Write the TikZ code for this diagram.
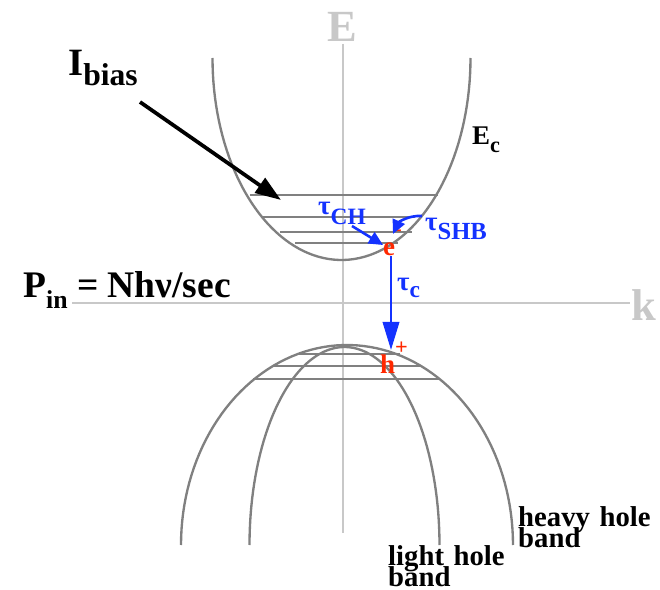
\documentclass[tikz,border=0pt]{standalone}
\usepackage{fontspec}
\setmainfont{Liberation Serif}
\usepackage{xcolor}
\usetikzlibrary{arrows.meta, positioning, calc}

\newcommand{\fsz}[1]{\fontsize{#1}{#1}\selectfont}
\newcommand{\tightlines}{\lineskiplimit=-50pt\lineskip=0pt\relax}
\definecolor{axisgray}{RGB}{200,200,200}
\definecolor{bandgray}{RGB}{128,128,128}
\definecolor{rateblue}{RGB}{20,50,255}
\definecolor{carrierred}{RGB}{255,40,0}

\begin{document}
\begin{tikzpicture}[
    x=0.03cm, y=-0.03cm,
    axis/.style={draw=axisgray, line width=2.3pt},
    band/.style={draw=bandgray, line width=2pt},
    lvl/.style={draw=bandgray, line width=2pt},
    lbl/.style={inner sep=0pt, anchor=base west, font=\bfseries},
    rate/.style={draw=rateblue, line width=2.2pt, -{Triangle[length=12pt,width=11pt]}},
    carrier/.style={lbl, text=carrierred},
    bandname/.style={lbl, text width=6cm, align=left, font=\bfseries\fontsize{24.5pt}{15.5pt}\selectfont}
]
\useasboundingbox (0,0) rectangle (660,590);

% axes
\coordinate (etop) at (343,44);
\coordinate (ebot) at (343,533);
\coordinate (kleft) at (72,303);
\coordinate (kright) at (630,303);
\draw[axis] (etop) -- (ebot);
\draw[axis] (kleft) -- (kright);
\node [inner sep=0pt, anchor=base, font=\bfseries\fsz{38pt}, text=axisgray] (lblE) at (342,42) {E};
\node [lbl, font=\bfseries\fsz{38pt}, text=axisgray] (lblk) at (631,320) {k};

% conduction band
\draw[band] plot[domain=0:180, samples=80] ({341.5+129*cos(\x)}, {58+202*sin(\x)});
\draw[lvl] (250,195) -- (438,195);
\draw[lvl] (262,217) -- (415,217);
\draw[lvl] (280,232) -- (412,232);
\draw[lvl] (295,243) -- (398,243);

% valence bands (heavy and light hole)
\draw[band] plot[domain=0:180, samples=80] ({347+166*cos(\x)}, {545-200*sin(\x)});
\draw[band] plot[domain=0:180, samples=80] ({344.5+95*cos(\x)}, {545-198*sin(\x)});
\draw[lvl] (297,354) -- (400,354);
\draw[lvl] (272,366) -- (420,366);
\draw[lvl] (253,379) -- (440,379);

% labels
\node [lbl] (ibias) at (68,76) {\fsz{33pt}I\raisebox{-8.5pt}{\fsz{27pt}bias}};
\node [lbl] (ec) at (472,145) {\fsz{23pt}E\raisebox{-6.5pt}{\fsz{19pt}c}};
\node [lbl] (pin) at (23,297) {\fsz{32pt}P\raisebox{-9.4pt}{\fsz{22pt}in} = Nhν/sec};
\node [bandname, anchor=north west] (hh) at (518,506) {\tightlines heavy hole\\[-5pt]band};
\node [bandname, anchor=north west] (lh) at (388,545) {\tightlines light hole\\[-5.5pt]band};

% bias current arrow
\coordinate (bstart) at (140,102);
\coordinate (bend) at (281,200);
\draw[line width=3.2pt, -{Triangle[length=22pt,width=15pt]}] (bstart) -- (bend);

% carriers and rates
\node [carrier] (elec) at (383,255) {\fsz{23pt}e\raisebox{17pt}{\fsz{17pt}-}};
\node [carrier] (hole) at (380,373) {\fsz{23pt}h\raisebox{16pt}{\fsz{19pt}+}};
\node [lbl, text=rateblue] (tauch) at (318,215) {\fsz{23pt}τ\raisebox{-8.5pt}{\fsz{20pt}CH}};
\node [lbl, text=rateblue] (taushb) at (425,230) {\fsz{23pt}τ\raisebox{-8.5pt}{\fsz{21pt}SHB}};
\node [lbl, text=rateblue] (tauc) at (397,290) {\fsz{23pt}τ\raisebox{-6pt}{\fsz{20pt}c}};

\coordinate (chs) at (352,226);
\coordinate (che) at (383,245);
\coordinate (shbs) at (422,216);
\coordinate (shbe) at (393,234);
\coordinate (cs) at (391,256);
\coordinate (ce) at (391,350);
\draw[rate] (chs) -- (che);
\draw[rate] (shbs) .. controls (408,215) and (398,223) .. (shbe);
\draw[rate, -{Triangle[length=24pt,width=14pt]}] (cs) -- (ce);
\end{tikzpicture}
\end{document}
